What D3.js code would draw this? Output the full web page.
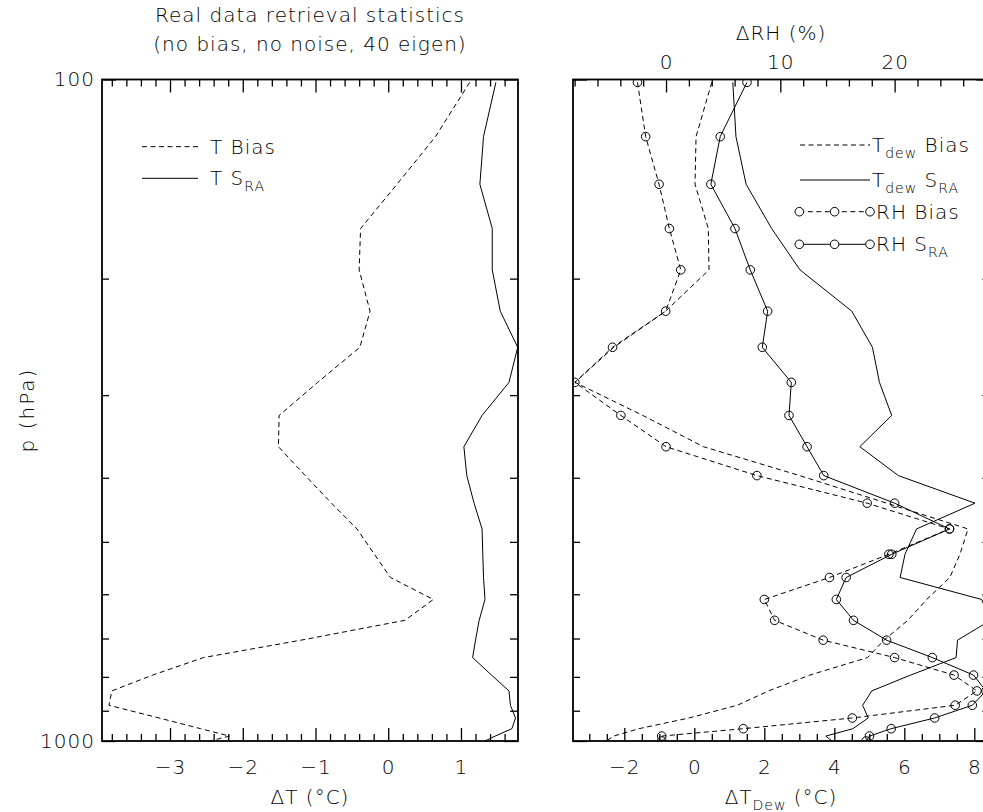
<!DOCTYPE html>
<html>
<head>
<meta charset="utf-8">
<script src="https://cdn.jsdelivr.net/npm/d3@7"></script>
<style>
  body { margin: 0; background: #fff; }
  text { font-family: "DejaVu Sans", sans-serif; font-weight: 200; fill: #000; letter-spacing: 1px; }
</style>
</head>
<body>
<div id="chart"></div>
<script>
// pressure levels (hPa), shared by every profile
const levels = [101, 122, 144, 168, 194, 224, 254, 287, 322, 359, 397, 437, 478, 522,
                566, 611, 657, 704, 748, 795, 840, 883, 923, 958, 983, 1000];

// left panel: temperature (deg C)
const tBias = [1.12, 0.65, 0.12, -0.38, -0.40, -0.25, -0.39, -0.97, -1.50, -1.51, -1.14, -0.78, -0.43,
               -0.19, 0.03, 0.62, 0.23, -1.20, -2.54, -3.24, -3.80, -3.84, -3.15, -2.58, -2.18, -2.45];
const tSra  = [1.48, 1.31, 1.26, 1.43, 1.43, 1.54, 1.78, 1.66, 1.29, 1.04, 1.08, 1.18, 1.29,
               1.30, 1.31, 1.33, 1.25, 1.20, 1.16, 1.42, 1.66, 1.68, 1.75, 1.70, 1.47, 1.33];

// right panel: dew point (deg C) and relative humidity (%)
const tdewBias = [0.50, 0.05, 0.02, 0.40, 0.42, -0.82, -2.30, -3.41, -1.47, 0.26, 3.01, 5.50, 7.82,
                  7.59, 7.30, 6.64, 6.10, 5.42, 4.95, 3.30, 2.12, 1.23, -0.15, -1.58, -2.30, -2.52];
const tdewSra  = [1.10, 1.19, 1.48, 2.21, 3.02, 4.50, 5.09, 5.29, 5.64, 4.73, 5.83, 8.02, 6.35,
                  6.02, 5.88, 8.21, 8.46, 7.52, 7.48, 6.18, 5.07, 4.81, 4.97, 4.53, 3.76, 3.93];
const rhBias = [-2.5, -1.78, -0.61, 0.29, 1.29, -0.03, -4.68, -7.98, -3.95, 0.0, 7.95, 17.6, 24.8,
                19.5, 14.3, 8.6, 9.5, 13.75, 20.0, 25.2, 27.2, 25.3, 16.3, 6.76, -0.38, -0.38];
const rhSra  = [7.08, 4.74, 3.92, 6.03, 7.37, 8.89, 8.42, 10.96, 10.76, 12.34, 13.8, 20.0, 24.8,
                19.75, 15.76, 14.9, 16.4, 19.3, 23.3, 26.9, 28.0, 26.8, 23.5, 19.7, 17.8, 17.5];

// tick values
const tMajor = [-3, -2, -1, 0, 1];
const tdewMajor = [-2, 0, 2, 4, 6, 8];
const rhMajor = [0, 10, 20];
const pMajor = [100, 1000];
const pMinor = [200, 300, 400, 500, 600, 700, 800, 900];

const width = 983, height = 812;
const svg = d3.select("#chart").append("svg").attr("width", width).attr("height", height);

const yTop = 79.5, yBot = 741;
const y = d3.scaleLog().domain([100, 1000]).range([yTop, yBot]);
const xT = d3.scaleLinear().domain([-3.935, 1.784]).range([102, 518]);
const xD = d3.scaleLinear().domain([-3.466, 8.46]).range([573, 990.4]);
const xRH = d3.scaleLinear().domain([-8.14, 28.38]).range([573, 990.4]);

const fmt = d => d < 0 ? "\u2212" + Math.abs(d) : String(d);
const FS = 20, SUB = 14;

function axis(fn, scale, values, size, tr, labels, pad) {
  const a = fn(scale).tickValues(values).tickSize(size).tickSizeOuter(0)
    .tickPadding(pad || 0).tickFormat(labels ? fmt : "");
  const g = svg.append("g").attr("transform", tr).call(a)
    .attr("font-family", null).attr("font-size", FS);
  g.select(".domain").remove();
  g.selectAll("line").attr("stroke", "#000").attr("stroke-width", 1.3);
  return g;
}

function minorsOf(lo, hi, step, majors) {
  const out = [];
  for (let v = Math.ceil(lo / step) * step; v <= hi + 1e-9; v += step) {
    const r = Math.round(v * 1000) / 1000;
    if (!majors.includes(r)) out.push(r);
  }
  return out;
}

function panel(left, right, id) {
  svg.append("clipPath").attr("id", id).append("rect")
    .attr("x", left).attr("y", yTop).attr("width", right - left).attr("height", yBot - yTop);
  axis(d3.axisLeft, y, pMajor, -14, `translate(${left},0)`, false);
  axis(d3.axisLeft, y, pMinor, -7, `translate(${left},0)`, false);
  axis(d3.axisRight, y, pMajor, -14, `translate(${right},0)`, false);
  axis(d3.axisRight, y, pMinor, -8, `translate(${right},0)`, false);
  svg.append("rect").attr("x", left).attr("y", yTop).attr("width", right - left)
    .attr("height", yBot - yTop).attr("fill", "none").attr("stroke", "#000").attr("stroke-width", 1.8);
  return svg.append("g").attr("clip-path", `url(#${id})`);
}

function profile(g, x, vals, dashed, markers) {
  const pts = levels.map((p, i) => [x(vals[i]), y(p)]);
  g.append("path").attr("d", d3.line()(pts)).attr("fill", "none").attr("stroke", "#000")
    .attr("stroke-width", 1).attr("stroke-dasharray", dashed ? "5,3.5" : null);
  if (markers) {
    g.selectAll(null).data(pts).enter().append("circle")
      .attr("cx", d => d[0]).attr("cy", d => d[1]).attr("r", 4.3)
      .attr("fill", "none").attr("stroke", "#000").attr("stroke-width", 1);
  }
}

// ---------- left panel ----------
const gL = panel(102, 518, "clipL");
axis(d3.axisBottom, xT, tMajor, -13, `translate(0,${yBot})`, true, 19);
axis(d3.axisBottom, xT, minorsOf(-3.935, 1.784, 0.2, tMajor), -7, `translate(0,${yBot})`, false);
axis(d3.axisTop, xT, tMajor, -13, `translate(0,${yTop})`, false);
axis(d3.axisTop, xT, minorsOf(-3.935, 1.784, 0.2, tMajor), -7, `translate(0,${yTop})`, false);
axis(d3.axisLeft, y, pMajor, 0, `translate(102,0)`, true, 7);

profile(gL, xT, tBias, true, false);
profile(gL, xT, tSra, false, false);

// ---------- right panel ----------
const gR = panel(573, 990.4, "clipR");
axis(d3.axisBottom, xD, tdewMajor, -13, `translate(0,${yBot})`, true, 19);
axis(d3.axisBottom, xD, minorsOf(-3.466, 8.46, 0.5, tdewMajor), -7, `translate(0,${yBot})`, false);
axis(d3.axisTop, xRH, rhMajor, -13, `translate(0,${yTop})`, true, 11);
axis(d3.axisTop, xRH, minorsOf(-8.14, 28.38, 2, rhMajor), -7, `translate(0,${yTop})`, false);

profile(gR, xD, tdewBias, true, false);
profile(gR, xD, tdewSra, false, false);
profile(gR, xRH, rhBias, true, true);
profile(gR, xRH, rhSra, false, true);

// ---------- text ----------
function txt(x, yy, anchor) {
  return svg.append("text").attr("x", x).attr("y", yy).attr("font-size", FS)
    .attr("text-anchor", anchor || "start");
}
// parts: [[string, isSubscript], ...]
function rich(t, parts) {
  let down = false;
  parts.forEach(([s, sub]) => {
    const ts = t.append("tspan").text(s);
    if (sub && !down) { ts.attr("font-size", SUB).attr("dy", 6); down = true; }
    else if (!sub && down) { ts.attr("dy", -6); down = false; }
    else if (sub) ts.attr("font-size", SUB);
  });
  return t;
}

txt(310, 22, "middle").text("Real data retrieval statistics");
txt(310, 51, "middle").text("(no bias, no noise, 40 eigen)");
txt(310, 804, "middle").text("\u0394T  (\u00b0C)");
rich(txt(781, 804, "middle"), [["\u0394T"], ["Dew", true], ["  (\u00b0C)"]]);
txt(781, 40, "middle").text("\u0394RH  (%)");
svg.append("text").attr("transform", "translate(34,410) rotate(-90)").attr("font-size", FS)
  .attr("text-anchor", "middle").style("letter-spacing", "2px").text("p  (hPa)");

// legends
function legLine(x1, x2, yy, dashed) {
  svg.append("line").attr("x1", x1).attr("x2", x2).attr("y1", yy).attr("y2", yy)
    .attr("stroke", "#000").attr("stroke-width", 1).attr("stroke-dasharray", dashed ? "5,3.5" : null);
}
legLine(142, 198, 146.7, true);
rich(txt(210, 153.7), [["T  Bias"]]);
legLine(142, 198, 178.3, false);
rich(txt(210, 185.3), [["T  S"], ["RA", true]]);

legLine(800, 870, 145, true);
rich(txt(872, 152), [["T"], ["dew", true], ["  Bias"]]);
legLine(800, 870, 180, false);
rich(txt(872, 187), [["T"], ["dew", true], ["  S"], ["RA", true]]);
[211.7, 244.3].forEach((yy, k) => {
  legLine(799.3, 870, yy, k === 0);
  [799.3, 834.6, 870].forEach(cx => svg.append("circle").attr("cx", cx).attr("cy", yy).attr("r", 4.3)
    .attr("fill", "#fff").attr("stroke", "#000").attr("stroke-width", 1));
});
rich(txt(876, 218.7), [["RH  Bias"]]);
rich(txt(876, 251.3), [["RH  S"], ["RA", true]]);
</script>
</body>
</html>
